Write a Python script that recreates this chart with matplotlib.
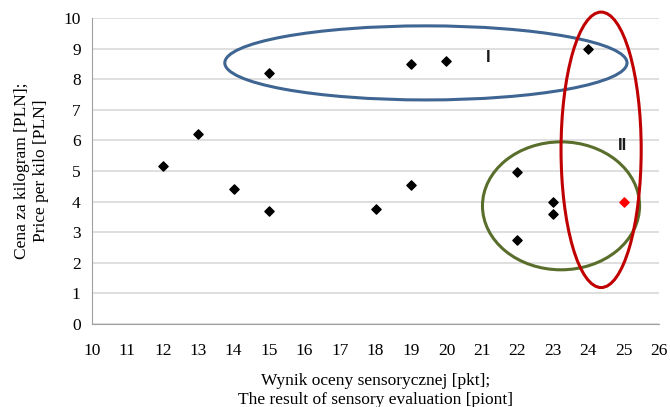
import matplotlib
matplotlib.use('Agg')
import matplotlib.pyplot as plt
from matplotlib.patches import Ellipse

# wynik oceny sensorycznej [pkt] i cena za kilogram [PLN]
score = [12, 13, 14, 15, 15, 18, 19, 19, 20, 22, 22, 23, 23, 24]
price = [5.15, 6.2, 4.4, 3.7, 8.2, 3.75, 8.5, 4.55, 8.6, 4.95, 2.75, 4.0, 3.6, 9.0]
# punkt wyróżniony
best_score = [25]
best_price = [4.0]

x_ticks = list(range(10, 27))
y_ticks = list(range(0, 11))

plt.rcParams['font.family'] = ['Liberation Serif', 'DejaVu Serif']

fig = plt.figure(figsize=(6.7, 4.07), dpi=100)
ax = fig.add_axes([0.137, 0.204, 0.847, 0.752])

ax.scatter(score, price, marker='D', s=22, color='black', zorder=3)
ax.scatter(best_score, best_price, marker='D', s=22, color='red', zorder=3)

# grupy I i II
ax.add_patch(Ellipse((19.42, 8.53), 11.34, 2.42, fill=False, edgecolor='#3f6592',
                     linewidth=2.2, clip_on=False, zorder=4))
ax.add_patch(Ellipse((23.23, 3.86), 4.43, 4.18, fill=False, edgecolor='#5a6e2c',
                     linewidth=2.2, clip_on=False, zorder=4))
ax.add_patch(Ellipse((24.36, 5.69), 2.26, 9.0, fill=False, edgecolor='#c00000',
                     linewidth=2.2, clip_on=False, zorder=4))
ax.text(21.17, 8.72, 'I', fontsize=12, fontweight='bold', ha='center', va='center',
        color='#1a1a1a', family=['Liberation Sans', 'DejaVu Sans'])
ax.text(24.96, 5.82, 'II', fontsize=12, fontweight='bold', ha='center', va='center',
        color='#1a1a1a', family=['Liberation Sans', 'DejaVu Sans'])

ax.set_xlim(10, 26)
ax.set_ylim(0, 10)
ax.set_xticks(x_ticks)
ax.set_yticks(y_ticks)
ax.tick_params(axis='both', length=0, labelsize=12.5, pad=14)
ax.tick_params(axis='y', pad=8)
ax.grid(axis='y', color='#d9d9d9', linewidth=1.2)
ax.set_axisbelow(True)
for s in ['top', 'right']:
    ax.spines[s].set_visible(False)
for s in ['left', 'bottom']:
    ax.spines[s].set_color('#a0a0a0')

ax.set_xlabel('Wynik oceny sensorycznej [pkt];\nThe result of sensory evaluation [piont]',
              fontsize=12.5, labelpad=10, linespacing=1.25)
ax.set_ylabel('Cena za kilogram [PLN];\nPrice per kilo [PLN]', fontsize=12.5,
              labelpad=10, linespacing=1.25)

fig.savefig('out.png', dpi=100)
